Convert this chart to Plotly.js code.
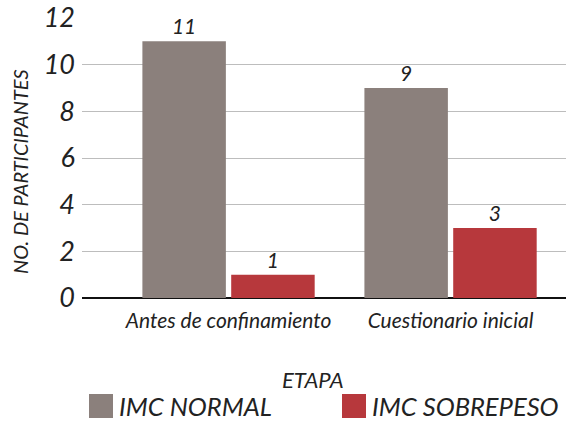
<!DOCTYPE html>
<html>
<head>
<meta charset="utf-8">
<script src="https://cdn.plot.ly/plotly-3.0.1.min.js"></script>
<style>
  html, body { margin: 0; padding: 0; background: #fff; }
  #chart { width: 566px; height: 423px; }
</style>
</head>
<body>
<div id="chart"></div>
<script>
const categories = ["Antes de confinamiento", "Cuestionario inicial"];
const seriesNames = ["IMC NORMAL", "IMC SOBREPESO"];
const imcNormal = [11, 9];
const imcSobrepeso = [1, 3];
const yTicks = [0, 2, 4, 6, 8, 10, 12];
const legendTitle = "ETAPA";
const yTitle = "NO. DE PARTICIPANTES";

const FONT = "Lato, 'Open Sans', sans-serif";
const colors = ["#8b807c", "#b7383c"];

const W = 566, H = 423;
const M = { l: 82, r: 0, t: 18, b: 125 };
const PW = W - M.l - M.r, PH = H - M.t - M.b;
// pixel -> paper helpers (for legend placement only)
const px = v => (v - M.l) / PW;
const py = v => (H - M.b - v) / PH;

const textFont = { family: FONT, size: 21, color: "#222", style: "italic" };

const traces = [imcNormal, imcSobrepeso].map((vals, i) => ({
  type: "bar", name: seriesNames[i], x: categories, y: vals,
  marker: { color: colors[i] },
  text: vals.map(String), textposition: "outside", cliponaxis: false,
  textfont: textFont, showlegend: false
}));

// manual legend
const legendX = [89, 342];   // left edge of swatch, px
const swatch = 24;
const legendYc = 406;
const shapes = legendX.map((x0, i) => ({
  type: "rect", xref: "paper", yref: "paper",
  x0: px(x0), x1: px(x0 + swatch), y0: py(legendYc + swatch / 2), y1: py(legendYc - swatch / 2),
  fillcolor: colors[i], line: { width: 0 }
}));
const legendAnn = legendX.map((x0, i) => ({
  text: seriesNames[i], xref: "paper", yref: "paper",
  x: px(x0 + swatch + 5), y: py(legendYc), xanchor: "left", yanchor: "middle",
  showarrow: false, borderpad: 0,
  font: { family: FONT, size: 25.5, color: "#222", style: "italic" }
}));

const layout = {
  width: W, height: H,
  margin: M,
  paper_bgcolor: "#fff", plot_bgcolor: "#fff",
  font: { family: FONT, color: "#222" },
  barmode: "group", bargap: 0.2, bargroupgap: 0.06,
  showlegend: false,
  xaxis: {
    type: "category", range: [-0.66, 1.52],
    showgrid: false, showline: false, zeroline: false,
    ticks: "", ticklabelstandoff: 8,
    tickfont: { family: FONT, size: 21, color: "#222", style: "italic" }
  },
  yaxis: {
    range: [0, 12], tickvals: yTicks, ticktext: yTicks.map(String),
    showgrid: true, gridcolor: "#bdbdbd", gridwidth: 1,
    zeroline: true, zerolinecolor: "#111", zerolinewidth: 2,
    showline: false, ticks: "", ticklabelstandoff: 6,
    tickfont: { family: FONT, size: 27, color: "#222", style: "italic" }
  },
  shapes: shapes,
  annotations: [
    {
      text: yTitle, xref: "paper", yref: "paper",
      x: px(20), y: py(172), xanchor: "center", yanchor: "middle",
      textangle: -90, showarrow: false,
      font: { family: FONT, size: 20, color: "#222", style: "italic" }
    },
    {
      text: legendTitle, xref: "paper", yref: "paper",
      x: px(313), y: py(379), xanchor: "center", yanchor: "middle",
      showarrow: false,
      font: { family: FONT, size: 22, color: "#222", style: "italic" }
    }
  ].concat(legendAnn)
};

Plotly.newPlot("chart", traces, layout, { displayModeBar: false, staticPlot: true });
</script>
</body>
</html>
